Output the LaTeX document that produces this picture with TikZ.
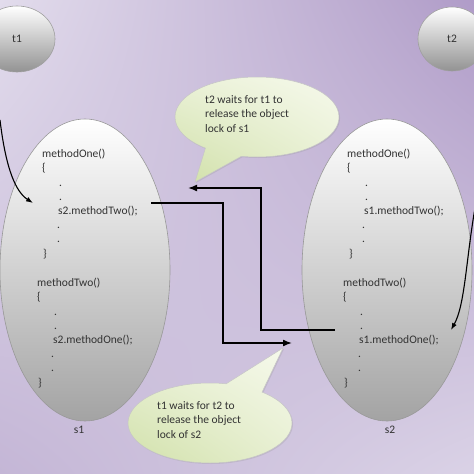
\documentclass[tikz,border=0pt]{standalone}
\usepackage{fontspec}
\setmainfont{Carlito}
\usepackage{xcolor}
\usetikzlibrary{positioning,arrows.meta,shapes.geometric,shapes.callouts,shadows,shadings}

\definecolor{bgul}{HTML}{E2DCEC}
\definecolor{bgur}{HTML}{B09CC8}
\definecolor{bgll}{HTML}{C4B6D6}
\definecolor{bglr}{HTML}{DAD2E6}
\definecolor{notedark}{HTML}{D0E0A8}
\definecolor{notelight}{HTML}{F6F9EC}
\definecolor{ink}{HTML}{333333}

\begin{document}
\begin{tikzpicture}[
    x=1pt, y=-1pt,
    txt/.style={font=\fontsize{11.5}{14.2}\selectfont, text=ink},
    thread/.style={ellipse, draw=gray!75, line width=0.6pt, top color=white, bottom color=gray!85, minimum width=76pt, minimum height=66pt, txt},
    object/.style={ellipse, draw=gray!80, line width=0.6pt, top color=white, bottom color=gray!72, minimum width=170pt, minimum height=302pt},
    code/.style={txt, align=left, inner sep=0pt, anchor=west},
    note/.style={ellipse callout, callout pointer arc=28, draw=gray!45, line width=0.5pt, lower left=notedark, upper right=notelight, lower right=notelight!60!notedark, upper left=notelight!70!notedark, minimum width=164pt, minimum height=80pt, drop shadow={opacity=0.2, shadow xshift=1pt, shadow yshift=-1pt}},
    notetext/.style={txt, align=left, inner sep=0pt, anchor=west},
    link/.style={-{Latex[length=9pt, width=7pt]}, line width=1.6pt},
    run/.style={-{Latex[length=7pt, width=5pt]}, line width=1.1pt},
]
\useasboundingbox (0,0) rectangle (474,474);
\clip (0,0) rectangle (474,474);
\shade[upper left=bgul, upper right=bgur, lower left=bgll, lower right=bglr] (0,0) rectangle (474,474);

% threads
\node[thread] (t1) at (17,39) {t1};
\node[thread, minimum width=68pt, minimum height=64pt] (t2) at (452,39) {t2};

% shared objects
\node[object] (s1) at (85,270) {};
\node[object] (s2) at (387,270) {};
\node[txt, below=1pt of s1, xshift=-6pt] (s1name) {s1};
\node[txt, below=1pt of s2, xshift=3pt] (s2name) {s2};

\node[code] (s1one) at (42,204) {methodOne()\\\{\\\hspace*{17pt}.\\\hspace*{17pt}.\\\hspace*{16pt}s2.methodTwo();\\\hspace*{15pt}.\\\hspace*{15pt}.\\\hspace*{1pt}\}};
\node[code] (s1two) at (37,333) {methodTwo()\\\{\\\hspace*{17pt}.\\\hspace*{17pt}.\\\hspace*{16pt}s2.methodOne();\\\hspace*{14pt}.\\\hspace*{14pt}.\\\hspace*{1pt}\}};
\node[code] (s2one) at (347,204) {methodOne()\\\{\\\hspace*{18pt}.\\\hspace*{18pt}.\\\hspace*{17pt}s1.methodTwo();\\\hspace*{15pt}.\\\hspace*{15pt}.\\\hspace*{2pt}\}};
\node[code] (s2two) at (343,333) {methodTwo()\\\{\\\hspace*{17pt}.\\\hspace*{17pt}.\\\hspace*{16pt}s1.methodOne();\\\hspace*{15pt}.\\\hspace*{15pt}.\\\hspace*{1pt}\}};

% callouts
\node[note, callout absolute pointer={(195,182)}] (wait1) at (257,117) {};
\node[notetext] (wait1txt) at (205,114) {t2 waits for t1 to\\release the object\\lock of s1};
\node[note, callout absolute pointer={(283,348)}] (wait2) at (210,423) {};
\node[notetext] (wait2txt) at (157,420) {t1 waits for t2 to\\release the object\\lock of s2};

% connectors
\coordinate (s1call) at (151,203);
\coordinate (s2gets) at (292,343);
\coordinate (s2call) at (335,330);
\coordinate (s1gets) at (188,188);
\coordinate (t1run) at (0,120);
\coordinate (t1enter) at (33,203);
\coordinate (t2run) at (475,208);
\coordinate (t2enter) at (451,330);

\draw[link] (s1call) -- ++(72,0) |- (s2gets);
\draw[link] (s2call) -- ++(-74,0) |- (s1gets);
\draw[run] (t1run) .. controls (6,170) and (16,192) .. (t1enter);
\draw[run] (t2run) .. controls (466,260) and (465,305) .. (t2enter);
\end{tikzpicture}
\end{document}
